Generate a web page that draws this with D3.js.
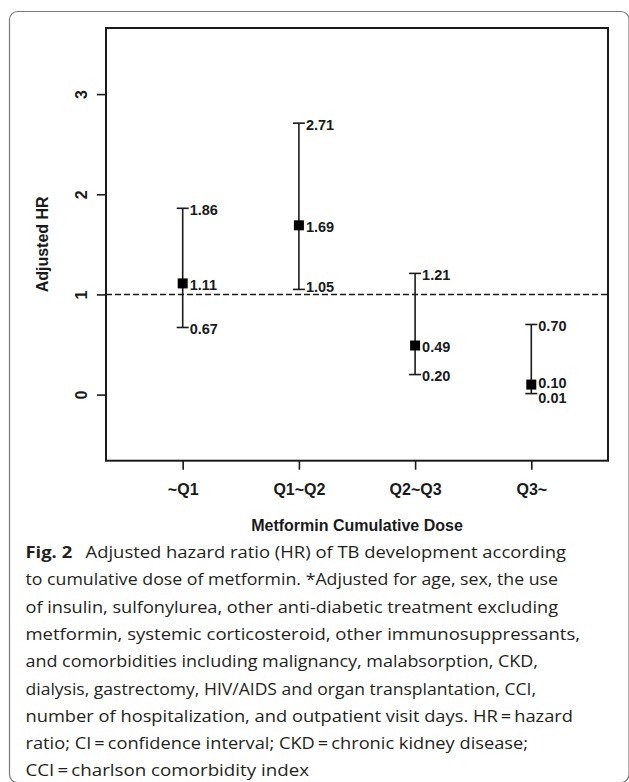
<!DOCTYPE html>
<html>
<head>
<meta charset="utf-8">
<script src="https://cdn.jsdelivr.net/npm/d3@7/dist/d3.min.js"></script>
<style>
  html, body { margin: 0; padding: 0; background: #fff; }
  svg { display: block; }
</style>
</head>
<body>
<svg id="chart" width="629" height="782"></svg>
<script>
// ---- data ----
const categories = ["~Q1", "Q1~Q2", "Q2~Q3", "Q3~"];
const hrEstimate = [1.11, 1.69, 0.49, 0.10];
const ciLower = [0.67, 1.05, 0.20, 0.01];
const ciUpper = [1.86, 2.71, 1.21, 0.70];
const yTickValues = [0, 1, 2, 3];
const referenceHR = 1;
const xAxisTitle = "Metformin Cumulative Dose";
const yAxisTitle = "Adjusted HR";
const captionBold = "Fig. 2";
const captionLines = [
  "Adjusted hazard ratio (HR) of TB development according",
  "to cumulative dose of metformin. *Adjusted for age, sex, the use",
  "of insulin, sulfonylurea, other anti-diabetic treatment excluding",
  "metformin, systemic corticosteroid, other immunosuppressants,",
  "and comorbidities including malignancy, malabsorption, CKD,",
  "dialysis, gastrectomy, HIV/AIDS and organ transplantation, CCI,",
  "number of hospitalization, and outpatient visit days. HR\u2009=\u2009hazard",
  "ratio; CI\u2009=\u2009confidence interval; CKD\u2009=\u2009chronic kidney disease;",
  "CCI\u2009=\u2009charlson comorbidity index"
];

// ---- layout ----
const plot = { left: 106, right: 608, top: 28, bottom: 460.7 };
const captionRight = [566, 558, 558, 580, 538, 536, 573, 528, 309];
const chartFont = "'Liberation Sans', Arial, Helvetica, sans-serif";
const captionFont = "'Open Sans', 'Noto Sans', sans-serif";
const ink = "#1a1a1a";

const svg = d3.select("#chart");

// outer rounded frame
svg.append("rect")
  .attr("x", 9.5).attr("y", 11.5)
  .attr("width", 619.5).attr("height", 771)
  .attr("rx", 8).attr("ry", 8)
  .attr("fill", "none").attr("stroke", "#7a7a7a").attr("stroke-width", 1.2);

const x = d3.scaleLinear().domain([0.34, 4.66]).range([plot.left, plot.right]);
const y = d3.scaleLinear().domain([-0.66, 3.66]).range([plot.bottom, plot.top]);

const data = categories.map((c, i) => ({
  cat: c, pos: i + 1, est: hrEstimate[i], lo: ciLower[i], hi: ciUpper[i]
}));

// reference dashed line
svg.append("line")
  .attr("x1", plot.left).attr("x2", plot.right)
  .attr("y1", y(referenceHR)).attr("y2", y(referenceHR))
  .attr("stroke", ink).attr("stroke-width", 1.6)
  .attr("stroke-dasharray", "6,3");

// axes
const yAxis = svg.append("g")
  .attr("transform", `translate(${plot.left},0)`)
  .call(d3.axisLeft(y).tickValues(yTickValues).tickSize(9).tickFormat(d3.format("d")));
yAxis.select(".domain").remove();
yAxis.selectAll(".tick line").attr("stroke", ink).attr("stroke-width", 1.6);
yAxis.selectAll(".tick text")
  .attr("x", null).attr("dy", null)
  .attr("transform", "translate(-19,0) rotate(-90)")
  .attr("text-anchor", "middle")
  .attr("fill", ink)
  .style("font-family", chartFont).style("font-size", "16px").style("font-weight", "bold");

const xAxis = svg.append("g")
  .attr("transform", `translate(0,${plot.bottom})`)
  .call(d3.axisBottom(x).tickValues(data.map(d => d.pos)).tickSize(9)
    .tickFormat(v => categories[v - 1]));
xAxis.select(".domain").remove();
xAxis.selectAll(".tick line").attr("stroke", ink).attr("stroke-width", 1.6);
xAxis.selectAll(".tick text")
  .attr("y", 34).attr("dy", null)
  .attr("fill", ink)
  .style("font-family", chartFont).style("font-size", "16px").style("font-weight", "bold");

// plot box
svg.append("rect")
  .attr("x", plot.left).attr("y", plot.top)
  .attr("width", plot.right - plot.left).attr("height", plot.bottom - plot.top)
  .attr("fill", "none").attr("stroke", ink).attr("stroke-width", 2);

// error bars
const capHalf = 6;
const g = svg.append("g");
const bars = g.selectAll("g.bar").data(data).join("g").attr("class", "bar");
bars.append("line")
  .attr("x1", d => x(d.pos)).attr("x2", d => x(d.pos))
  .attr("y1", d => y(d.lo)).attr("y2", d => y(d.hi))
  .attr("stroke", ink).attr("stroke-width", 1.6);
["lo", "hi"].forEach(k => {
  bars.append("line")
    .attr("x1", d => x(d.pos) - capHalf).attr("x2", d => x(d.pos) + capHalf)
    .attr("y1", d => y(d[k])).attr("y2", d => y(d[k]))
    .attr("stroke", ink).attr("stroke-width", 1.6);
});
const sq = 10;
bars.append("rect")
  .attr("x", d => x(d.pos) - sq / 2).attr("y", d => y(d.est) - sq / 2)
  .attr("width", sq).attr("height", sq).attr("fill", "#000");

// value labels with simple overlap avoidance
const fmt = d3.format(".2f");
const minGap = 15;
const labels = [];
data.forEach(d => {
  const items = [
    { v: d.hi, py: y(d.hi) },
    { v: d.est, py: y(d.est) },
    { v: d.lo, py: y(d.lo) }
  ];
  // keep labels clear of the reference line
  items.forEach(it => {
    const dy = it.py - y(referenceHR);
    if (Math.abs(dy) < 8 && it.v !== d.est) it.py = y(referenceHR) + (dy < 0 ? -9 : 9);
  });
  // push apart overlapping labels
  for (let i = 0; i < items.length - 1; i++) {
    const a = items[i], b = items[i + 1];
    if (b.py - a.py < minGap) {
      const mid = (a.py + b.py) / 2;
      a.py = mid - minGap / 2; b.py = mid + minGap / 2;
    }
  }
  items.forEach(it => labels.push({ x: x(d.pos) + capHalf + 1, y: it.py, t: fmt(it.v) }));
});
g.selectAll("text.val").data(labels).join("text")
  .attr("class", "val")
  .attr("x", d => d.x).attr("y", d => d.y + 1.5)
  .attr("dominant-baseline", "central")
  .attr("fill", ink)
  .style("font-family", chartFont).style("font-size", "14.5px").style("font-weight", "bold")
  .text(d => d.t);

// axis titles
svg.append("text")
  .attr("x", (plot.left + plot.right) / 2).attr("y", 530.5)
  .attr("text-anchor", "middle").attr("fill", ink)
  .style("font-family", chartFont).style("font-size", "16px").style("font-weight", "bold")
  .text(xAxisTitle);
svg.append("text")
  .attr("transform", `translate(48,${(plot.top + plot.bottom) / 2}) rotate(-90)`)
  .attr("text-anchor", "middle").attr("fill", ink)
  .style("font-family", chartFont).style("font-size", "16px").style("font-weight", "bold")
  .text(yAxisTitle);

// caption
const capLeft = 25.5, capTop = 558, capStep = 27.3;
captionLines.forEach((line, i) => {
  const t = svg.append("text")
    .attr("x", capLeft).attr("y", capTop + i * capStep)
    .attr("fill", "#231f20")
    .style("font-family", captionFont).style("font-size", "16.5px");
  if (i === 0) {
    t.append("tspan").style("font-weight", "bold").text(captionBold);
    t.append("tspan").attr("dx", 12).text(line);
  } else {
    t.text(line);
  }
  t.attr("textLength", captionRight[i] - capLeft).attr("lengthAdjust", "spacingAndGlyphs");
});
</script>
</body>
</html>
